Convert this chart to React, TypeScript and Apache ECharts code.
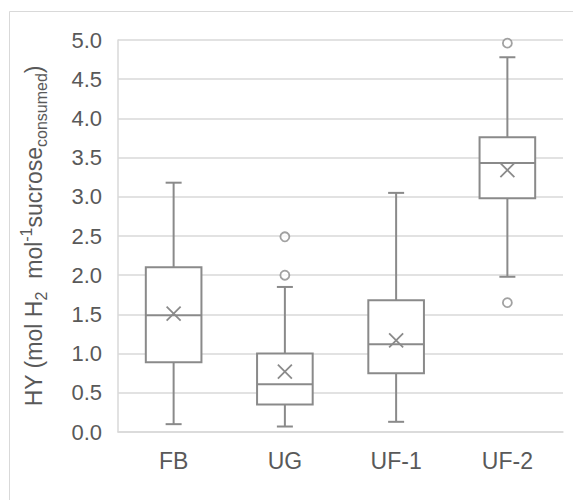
import React, { useEffect, useRef } from "react";
import * as echarts from "echarts";

const categories = ["FB", "UG", "UF-1", "UF-2"];
const whiskerLow = [0.1, 0.07, 0.13, 1.98];
const q1 = [0.89, 0.35, 0.75, 2.98];
const median = [1.49, 0.61, 1.12, 3.43];
const q3 = [2.1, 1.0, 1.68, 3.76];
const whiskerHigh = [3.18, 1.85, 3.05, 4.78];
const means = [1.51, 0.77, 1.17, 3.34];
const outliers: [number, number][] = [
  [1, 2.49],
  [1, 2.0],
  [3, 4.96],
  [3, 1.65],
];

const LINE = "#8a8a8a";
const GRID = "#d9d9d9";
const TEXT = "#595959";
const FONT = "'Liberation Sans', Arial, sans-serif";

export default function App() {
  const ref = useRef<HTMLDivElement>(null);
  useEffect(() => {
    const chart = echarts.init(ref.current!, null, { renderer: "svg" });
    const boxData = categories.map((_, i) => [
      i,
      whiskerLow[i],
      q1[i],
      median[i],
      q3[i],
      whiskerHigh[i],
      means[i],
    ]);
    const option: any = {
      animation: false,
      backgroundColor: "#fff",
      textStyle: { fontFamily: FONT },
      grid: { left: 118, right: 10, top: 40, bottom: 68 },
      graphic: [
        {
          type: "rect",
          shape: { x: 9.5, y: 11.5, width: 700, height: 700 },
          style: { fill: "none", stroke: GRID, lineWidth: 1 },
          silent: true,
        },
      ],
      xAxis: {
        type: "category",
        data: categories,
        axisLine: { lineStyle: { color: GRID, width: 1.5 } },
        axisTick: { show: false },
        axisLabel: { color: TEXT, fontSize: 23, margin: 17, fontFamily: FONT },
      },
      yAxis: {
        type: "value",
        min: 0,
        max: 5,
        interval: 0.5,
        axisLine: { show: true, lineStyle: { color: GRID, width: 1.5 } },
        axisTick: { show: false },
        splitLine: { lineStyle: { color: GRID, width: 1.5 } },
        axisLabel: {
          color: TEXT,
          fontSize: 22,
          margin: 16,
          fontFamily: FONT,
          formatter: (v: number) => v.toFixed(1),
        },
        name: "{n|HY (mol H}{sub|2}{n|  mol}{sup|-1}{n|sucrose}{sub|consumed}{n|)}",
        nameLocation: "middle",
        nameGap: 69,
        nameRotate: 90,
        nameTextStyle: {
          color: TEXT,
          fontFamily: FONT,
          rich: {
            n: { fontSize: 23, color: TEXT, fontFamily: FONT, lineHeight: 31, verticalAlign: "middle" },
            sub: { fontSize: 16, color: TEXT, fontFamily: FONT, lineHeight: 31, verticalAlign: "bottom" },
            sup: { fontSize: 16, color: TEXT, fontFamily: FONT, lineHeight: 31, verticalAlign: "top" },
          },
        },
      },
      series: [
        {
          type: "custom",
          data: boxData,
          encode: { x: 0, y: [1, 2, 3, 4, 5, 6] },
          renderItem: (params: any, api: any) => {
            const i = api.value(0);
            const band = api.size([1, 0])[0];
            const hw = band * 0.25;
            const cap = 8;
            const pLow = api.coord([i, api.value(1)]);
            const pQ1 = api.coord([i, api.value(2)]);
            const pMed = api.coord([i, api.value(3)]);
            const pQ3 = api.coord([i, api.value(4)]);
            const pHigh = api.coord([i, api.value(5)]);
            const pMean = api.coord([i, api.value(6)]);
            const cx = pQ1[0];
            const st = { stroke: LINE, lineWidth: 2, fill: "none" };
            const xs = 7;
            return {
              type: "group",
              children: [
                { type: "line", shape: { x1: cx, y1: pLow[1], x2: cx, y2: pQ1[1] }, style: st },
                { type: "line", shape: { x1: cx, y1: pQ3[1], x2: cx, y2: pHigh[1] }, style: st },
                { type: "line", shape: { x1: cx - cap, y1: pLow[1], x2: cx + cap, y2: pLow[1] }, style: st },
                { type: "line", shape: { x1: cx - cap, y1: pHigh[1], x2: cx + cap, y2: pHigh[1] }, style: st },
                {
                  type: "rect",
                  shape: { x: cx - hw, y: pQ3[1], width: hw * 2, height: pQ1[1] - pQ3[1] },
                  style: { stroke: LINE, lineWidth: 2, fill: "#fff" },
                },
                { type: "line", shape: { x1: cx - hw, y1: pMed[1], x2: cx + hw, y2: pMed[1] }, style: st },
                {
                  type: "line",
                  shape: { x1: cx - xs, y1: pMean[1] - xs, x2: cx + xs, y2: pMean[1] + xs },
                  style: { stroke: LINE, lineWidth: 1.8 },
                },
                {
                  type: "line",
                  shape: { x1: cx - xs, y1: pMean[1] + xs, x2: cx + xs, y2: pMean[1] - xs },
                  style: { stroke: LINE, lineWidth: 1.8 },
                },
              ],
            };
          },
        },
        {
          type: "scatter",
          data: outliers,
          symbol: "circle",
          symbolSize: 9,
          itemStyle: { color: "#fff", borderColor: LINE, borderWidth: 1.8 },
        },
      ],
    };
    chart.setOption(option);
    return () => chart.dispose();
  }, []);
  return (
    <div
      ref={ref}
      style={{ position: "fixed", left: 0, top: 0, width: 573, height: 500 }}
    />
  );
}
